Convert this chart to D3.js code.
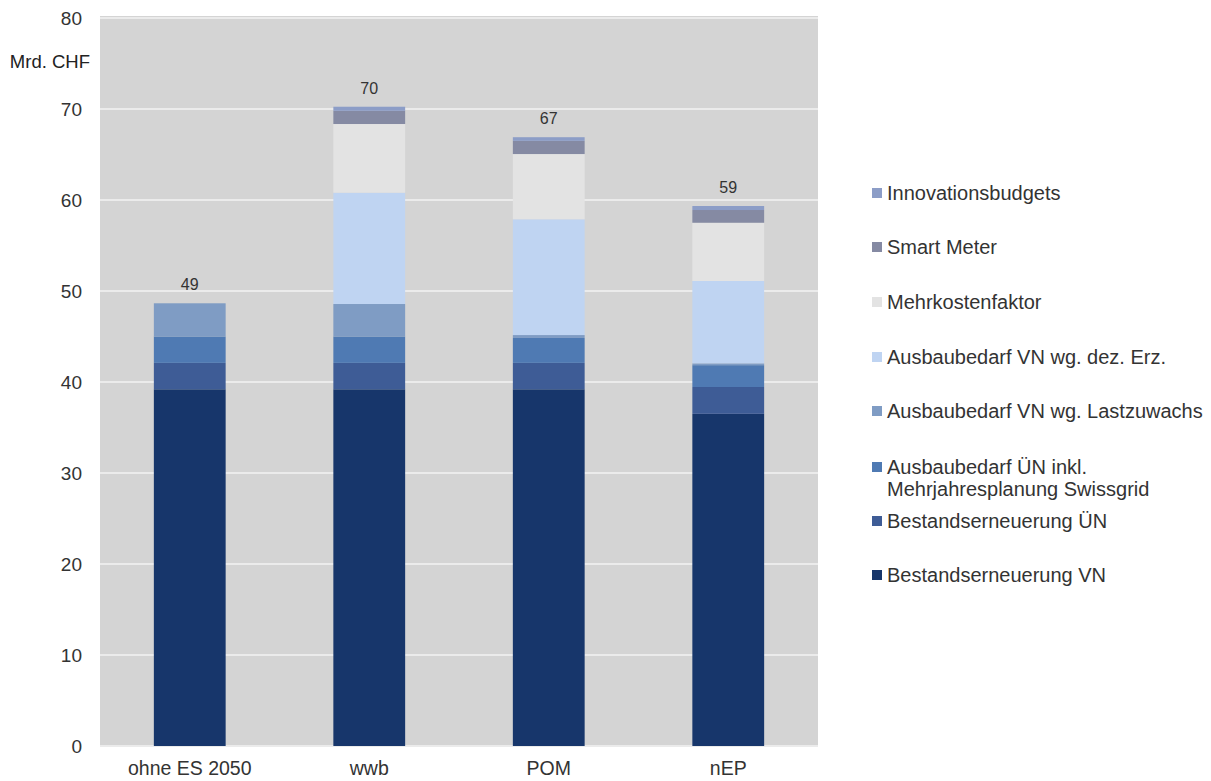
<!DOCTYPE html>
<html><head><meta charset="utf-8">
<script src="https://cdn.jsdelivr.net/npm/d3@7"></script>
<style>body{margin:0;background:#fff;} text{font-family:"Liberation Sans",Arial,sans-serif;}</style>
</head><body>
<svg id="c" width="1211" height="781"></svg>
<script>
const categories = ["ohne ES 2050", "wwb", "POM", "nEP"];
const seriesNames = ["Bestandserneuerung VN", "Bestandserneuerung ÜN", "Ausbaubedarf ÜN inkl. Mehrjahresplanung Swissgrid", "Ausbaubedarf VN wg. Lastzuwachs", "Ausbaubedarf VN wg. dez. Erz.", "Mehrkostenfaktor", "Smart Meter", "Innovationsbudgets"];
const bestandVN   = [39.2, 39.2, 39.2, 36.5];
const bestandUN   = [2.9, 2.9, 2.9, 2.95];
const ausbauUN    = [2.9, 2.9, 2.74, 2.4];
const lastzuwachs = [3.65, 3.57, 0.32, 0.2];
const dezErz      = [0, 12.23, 12.72, 9.05];
const mehrkosten  = [0, 7.55, 7.17, 6.4];
const smartMeter  = [0, 1.45, 1.45, 1.4];
const innovation  = [0, 0.45, 0.4, 0.44];
const totalLabels = ["49", "70", "67", "59"];
const yTicks = [0, 10, 20, 30, 40, 50, 60, 70, 80];
const colors = ["#17366b", "#3e5c96", "#4f7ab3", "#7f9cc4", "#bfd4f2", "#e3e3e3", "#858aa3", "#8c9dc7"];

const seriesVals = [bestandVN, bestandUN, ausbauUN, lastzuwachs, dezErz, mehrkosten, smartMeter, innovation];
const rows = categories.map((c, i) => {
  const r = {cat: c};
  seriesNames.forEach((s, j) => r[s] = seriesVals[j][i]);
  return r;
});
const stack = d3.stack().keys(seriesNames)(rows);

const svg = d3.select("#c");
const x = d3.scaleBand().domain(categories).range([100, 818]).paddingInner(0.6).paddingOuter(0.3);
const y = d3.scaleLinear().domain([0, 80]).range([746, 18]);

svg.append("rect").attr("x", 100).attr("y", y(80) - 2).attr("width", 718).attr("height", y(0) - y(80) + 2).attr("fill", "#d4d4d4");

svg.append("g").selectAll("line").data(yTicks).join("line")
  .attr("x1", 100).attr("x2", 818).attr("y1", d => y(d)).attr("y2", d => y(d))
  .attr("stroke", "#ebebeb").attr("stroke-width", 2);

svg.append("g").selectAll("g").data(stack).join("g")
  .attr("fill", (d, i) => colors[i])
  .selectAll("rect").data(d => d).join("rect")
  .attr("x", d => x(d.data.cat)).attr("width", x.bandwidth())
  .attr("y", d => y(d[1])).attr("height", d => Math.max(0, y(d[0]) - y(d[1])));

const totals = rows.map(r => d3.sum(seriesNames, s => r[s]));
svg.append("g").selectAll("text").data(categories).join("text")
  .attr("x", d => x(d) + x.bandwidth() / 2).attr("y", (d, i) => y(totals[i]) - 13)
  .attr("text-anchor", "middle").attr("font-size", 16).attr("fill", "#333")
  .text((d, i) => totalLabels[i]);

// y axis
const yAxis = svg.append("g").attr("transform", "translate(100,0)")
  .call(d3.axisLeft(y).tickValues(yTicks).tickSize(0).tickPadding(18));
yAxis.select(".domain").remove();
yAxis.selectAll("text").attr("font-size", 19).attr("fill", "#333").attr("font-family", "Liberation Sans, Arial, sans-serif");

svg.append("text").attr("x", 90).attr("y", 68).attr("text-anchor", "end").attr("font-size", 18.5).attr("fill", "#222").text("Mrd. CHF");

// x axis
const xAxis = svg.append("g").attr("transform", "translate(0,746)")
  .call(d3.axisBottom(x).tickSize(0).tickPadding(15));
xAxis.select(".domain").remove();
xAxis.selectAll("text").attr("font-size", 19.5).attr("fill", "#333").attr("font-family", "Liberation Sans, Arial, sans-serif");

// legend
const legendItems = [
  {i: 7, y: 193, lines: ["Innovationsbudgets"]},
  {i: 6, y: 247, lines: ["Smart Meter"]},
  {i: 5, y: 302, lines: ["Mehrkostenfaktor"]},
  {i: 4, y: 357, lines: ["Ausbaubedarf VN wg. dez. Erz."]},
  {i: 3, y: 411, lines: ["Ausbaubedarf VN wg. Lastzuwachs"]},
  {i: 2, y: 467, lines: ["Ausbaubedarf ÜN inkl.", "Mehrjahresplanung Swissgrid"]},
  {i: 1, y: 521, lines: ["Bestandserneuerung ÜN"]},
  {i: 0, y: 575, lines: ["Bestandserneuerung VN"]}
];
const lg = svg.append("g").selectAll("g").data(legendItems).join("g");
lg.append("rect").attr("x", 872).attr("y", d => d.y - 5).attr("width", 10).attr("height", 10).attr("fill", d => colors[d.i]);
lg.each(function(d) {
  const g = d3.select(this);
  d.lines.forEach((l, k) => {
    g.append("text").attr("x", 887).attr("y", d.y + 7 + k * 22).attr("font-size", 20).attr("fill", "#333").text(l);
  });
});
</script>
</body></html>
